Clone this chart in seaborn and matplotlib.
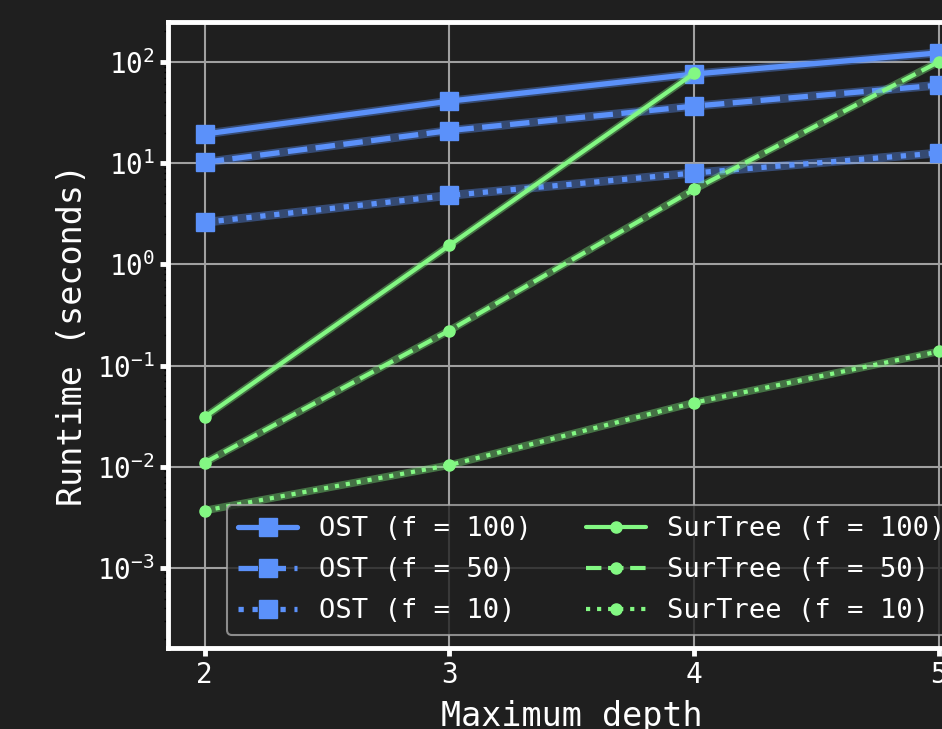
import pandas as pd
import matplotlib.pyplot as plt
import seaborn as sns

# runtimes (seconds)
depths = [2, 3, 4, 5]
ost_f100 = [19.4, 41.0, 76.0, 123.0]
ost_f50 = [10.2, 21.0, 36.6, 59.0]
ost_f10 = [2.6, 4.8, 8.0, 12.6]
sur_depths_f100 = [2, 3, 4]  # no run at depth 5
sur_f100 = [0.031, 1.54, 77.0]
sur_f50 = [0.011, 0.222, 5.5, 100.0]
sur_f10 = [0.0037, 0.0104, 0.043, 0.138]

BG = '#1f1f1f'
BLUE = '#5b91fa'
GREEN = '#83f883'

sns.set_theme(style='ticks', rc={
    'figure.facecolor': BG,
    'axes.facecolor': BG,
    'savefig.facecolor': BG,
})
plt.rcParams['font.family'] = ['DejaVu Sans Mono', 'DejaVu Sans']

series = [
    ('OST (f = 100)', depths, ost_f100, BLUE, '-', 's'),
    ('OST (f = 50)', depths, ost_f50, BLUE, '--', 's'),
    ('OST (f = 10)', depths, ost_f10, BLUE, ':', 's'),
    ('SurTree (f = 100)', sur_depths_f100, sur_f100, GREEN, '-', 'o'),
    ('SurTree (f = 50)', depths, sur_f50, GREEN, '--', 'o'),
    ('SurTree (f = 10)', depths, sur_f10, GREEN, ':', 'o'),
]

fig = plt.figure(figsize=(9.42, 7.29), dpi=100)
ax = fig.add_axes([0.1783, 0.111, 0.857, 0.8595])

for label, xs, ys, color, ls, mk in series:
    df = pd.DataFrame({'depth': xs, 'runtime': ys})
    ost = mk == 's'
    lw = 3.8 if ost else 3.0
    # faint wide underlay
    sns.lineplot(data=df, x='depth', y='runtime', ax=ax, color=color,
                 lw=lw + 2.5, alpha=0.38, errorbar=None, legend=False)
    sns.lineplot(data=df, x='depth', y='runtime', ax=ax, color=color,
                 lw=lw, linestyle=ls, marker=mk, ms=13 if ost else 8,
                 mec=color, mew=1, errorbar=None, label=label)

ax.set_yscale('log')
ax.set_xlim(1.85, 5.15)
ax.set_ylim(1.62e-4, 251)
ax.set_xticks(depths)

ax.grid(True, which='major', color='#a0a0a0', lw=1.5)
ax.set_axisbelow(True)

for s in ax.spines.values():
    s.set_visible(True)
    s.set_color('white')
    s.set_linewidth(3.5)

ax.tick_params(which='major', color='white', width=3.5, length=6,
               labelcolor='white', labelsize=20, left=True, bottom=True)
ax.tick_params(axis='y', which='minor', color='black', width=1, length=3, left=True)

ax.set_xlabel('Maximum depth', fontsize=24, color='white', labelpad=8)
ax.set_ylabel('Runtime (seconds)', fontsize=24, color='white', labelpad=6)

leg = ax.legend(ncol=2, loc='lower left', bbox_to_anchor=(0.073, 0.021),
                borderaxespad=0, fontsize=19.5, labelspacing=0.55, handlelength=2.2,
                facecolor=BG, edgecolor='#a8a8a8', framealpha=0.8)
leg.get_frame().set_linewidth(1.5)
for t in leg.get_texts():
    t.set_color('white')

fig.savefig('out.png', dpi=100)
